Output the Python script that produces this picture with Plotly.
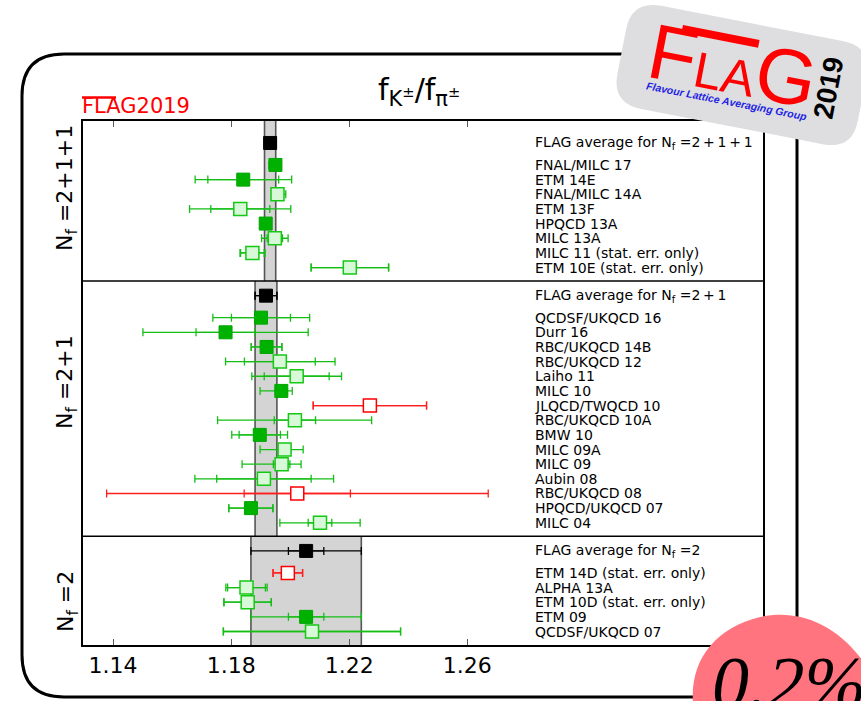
import math
import plotly.graph_objects as go

# ---------------- data ----------------
x_ticks = [1.14, 1.18, 1.22, 1.26]
x_tick_text = ["1.14", "1.18", "1.22", "1.26"]

panel_names = ["N<sub>f</sub> =2+1+1", "N<sub>f</sub> =2+1", "N<sub>f</sub> =2"]
avg_names = ["FLAG average for N<sub>f</sub> =2\u2009+\u20091\u2009+\u20091",
             "FLAG average for N<sub>f</sub> =2\u2009+\u20091",
             "FLAG average for N<sub>f</sub> =2"]
avg_val = [1.1932, 1.1918, 1.2054]
avg_stat = [0.0019, 0.0037, 0.0060]
avg_tot = [0.0019, 0.0037, 0.0187]

# Nf = 2+1+1
names_a = ["FNAL/MILC 17", "ETM 14E", "FNAL/MILC 14A", "ETM 13F", "HPQCD 13A",
           "MILC 13A", "MILC 11 (stat. err. only)", "ETM 10E (stat. err. only)"]
val_a = [1.1950, 1.1841, 1.1957, 1.1831, 1.1917, 1.1948, 1.1872, 1.2202]
stat_a = [0.0015, 0.0120, 0.0010, 0.0100, 0.0015, 0.0026, 0.0040, 0.0131]
totm_a = [0.0022, 0.0163, 0.0018, 0.0172, 0.0015, 0.0045, 0.0042, 0.0131]
totp_a = [0.0015, 0.0164, 0.0028, 0.0171, 0.0015, 0.0045, 0.0043, 0.0132]
style_a = ["fill", "fill", "open", "open", "fill", "open", "open", "open"]

# Nf = 2+1
names_b = ["QCDSF/UKQCD 16", "Durr 16", "RBC/UKQCD 14B", "RBC/UKQCD 12", "Laiho 11",
           "MILC 10", "JLQCD/TWQCD 10", "RBC/UKQCD 10A", "BMW 10", "MILC 09A",
           "MILC 09", "Aubin 08", "RBC/UKQCD 08", "HPQCD/UKQCD 07", "MILC 04"]
val_b = [1.1901, 1.1781, 1.1920, 1.1965, 1.2022, 1.1970, 1.2270, 1.2016, 1.1897,
         1.1981, 1.1971, 1.1911, 1.2024, 1.1867, 1.2101]
stat_b = [0.0100, 0.0100, 0.0052, 0.0120, 0.0110, 0.0020, 0.0192, 0.0070, 0.0070,
          0.0020, 0.0028, 0.0160, 0.0180, 0.0075, 0.0040]
totm_b = [0.0163, 0.0280, 0.0052, 0.0184, 0.0152, 0.0072, 0.0192, 0.0262, 0.0095,
          0.0083, 0.0134, 0.0234, 0.0646, 0.0075, 0.0136]
totp_b = [0.0165, 0.0280, 0.0052, 0.0187, 0.0152, 0.0037, 0.0192, 0.0260, 0.0094,
          0.0063, 0.0066, 0.0236, 0.0647, 0.0074, 0.0136]
style_b = ["fill", "fill", "fill", "open", "open", "fill", "red", "open", "fill",
           "open", "open", "open", "red", "fill", "open"]

# Nf = 2
names_c = ["ETM 14D (stat. err. only)", "ALPHA 13A", "ETM 10D (stat. err. only)",
           "ETM 09", "QCDSF/UKQCD 07"]
val_c = [1.1992, 1.1852, 1.1856, 1.2054, 1.2074]
stat_c = [0.0050, 0.0064, 0.0080, 0.0060, 0.0300]
totm_c = [0.0050, 0.0070, 0.0081, 0.0186, 0.0301]
totp_c = [0.0050, 0.0070, 0.0080, 0.0187, 0.0300]
style_c = ["red", "open", "open", "fill", "open"]

panels = [
    (names_a, val_a, stat_a, totm_a, totp_a, style_a),
    (names_b, val_b, stat_b, totm_b, totp_b, style_b),
    (names_c, val_c, stat_c, totm_c, totp_c, style_c),
]

# ---------------- geometry ----------------
W, H = 861, 701
ML, MR, MT, MB = 83, 98, 121, 56
PW, PH = W - ML - MR, H - MT - MB


def pxx(xp):
    return (xp - ML) / PW


def pxy(yp):
    return (H - MB - yp) / PH


avg_off = [1.5, 1.0, 1.0]
label_x = 1.2823
panel_label_rows = [4.57, 17.81, 32.83]

layout_rows = []
cur = 0.0
for p, pan in enumerate(panels):
    top = cur
    ya = top + avg_off[p]
    ys = [ya + 1.5 + i for i in range(len(pan[0]))]
    bottom = ys[-1] + 0.92
    layout_rows.append((top, ya, ys, bottom))
    cur = bottom
y_total = cur

styles = {
    "fill": dict(fill="rgb(0,178,0)", line="rgb(0,165,0)", lw=1, err="rgb(20,190,20)"),
    "open": dict(fill="rgb(216,249,216)", line="rgb(20,200,20)", lw=1.5, err="rgb(20,190,20)"),
    "red": dict(fill="white", line="rgb(255,0,0)", lw=1.5, err="rgb(255,30,30)"),
    "avg": dict(fill="black", line="black", lw=1, err="black"),
}

groups = {k: dict(x=[], y=[], sm=[], sp=[], tm=[], tp=[]) for k in styles}
for p, pan in enumerate(panels):
    names, vals, stats, tms, tps, sts = pan
    top, ya, ys, bottom = layout_rows[p]
    g = groups["avg"]
    g["x"].append(avg_val[p]); g["y"].append(ya)
    g["sm"].append(avg_stat[p]); g["sp"].append(avg_stat[p])
    g["tm"].append(avg_tot[p]); g["tp"].append(avg_tot[p])
    for i in range(len(names)):
        g = groups[sts[i]]
        g["x"].append(vals[i]); g["y"].append(ys[i])
        g["sm"].append(stats[i]); g["sp"].append(stats[i])
        g["tm"].append(tms[i]); g["tp"].append(tps[i])

fig = go.Figure()
for k, g in groups.items():
    s = styles[k]
    fig.add_trace(go.Scatter(
        x=g["x"], y=g["y"], mode="markers",
        marker=dict(size=1, color="rgba(0,0,0,0)"),
        error_x=dict(type="data", symmetric=False, array=g["tp"], arrayminus=g["tm"],
                     color=s["err"], thickness=1.3, width=4),
        hoverinfo="skip"))
for k, g in groups.items():
    s = styles[k]
    fig.add_trace(go.Scatter(
        x=g["x"], y=g["y"], mode="markers",
        marker=dict(symbol="square", size=13, color=s["fill"],
                    line=dict(color=s["line"], width=s["lw"])),
        error_x=dict(type="data", symmetric=False, array=g["sp"], arrayminus=g["sm"],
                     color=s["err"], thickness=1.3, width=4),
        hoverinfo="skip"))

shapes = []
annotations = []
LBL = dict(size=14, color="black", family="DejaVu Sans")
for p, pan in enumerate(panels):
    top, ya, ys, bottom = layout_rows[p]
    lo, hi = avg_val[p] - avg_tot[p], avg_val[p] + avg_tot[p]
    shapes.append(dict(type="rect", xref="x", yref="y", x0=lo, x1=hi, y0=top, y1=bottom,
                       fillcolor="rgb(212,212,212)", line=dict(width=0), layer="below"))
    for xe in (lo, hi):
        shapes.append(dict(type="line", xref="x", yref="y", x0=xe, x1=xe, y0=top, y1=bottom,
                           line=dict(color="rgb(85,85,85)", width=1.6), layer="below"))
    if p < 2:
        shapes.append(dict(type="line", xref="paper", yref="y", x0=0, x1=1, y0=bottom, y1=bottom,
                           line=dict(color="black", width=1.5), layer="above"))
    annotations.append(dict(x=label_x, y=ya, xref="x", yref="y", text=avg_names[p],
                            showarrow=False, xanchor="left", yanchor="middle", font=LBL))
    for i, nm in enumerate(pan[0]):
        annotations.append(dict(x=label_x, y=ys[i], xref="x", yref="y", text=nm,
                                showarrow=False, xanchor="left", yanchor="middle", font=LBL))
    annotations.append(dict(x=pxx(67), y=panel_label_rows[p], xref="paper", yref="y",
                            text=panel_names[p], textangle=-90, showarrow=False,
                            xanchor="center", yanchor="middle",
                            font=dict(size=22, color="black", family="DejaVu Sans")))

annotations.append(dict(x=pxx(419), y=pxy(92), xref="paper", yref="paper",
                        text="f<sub>K<sup>±</sup></sub>/f<sub>π<sup>±</sup></sub>",
                        showarrow=False, xanchor="center", yanchor="middle",
                        font=dict(size=30, color="black", family="DejaVu Sans")))
annotations.append(dict(x=pxx(80), y=pxy(106), xref="paper", yref="paper",
                        text="FLAG2019", showarrow=False, xanchor="left", yanchor="middle",
                        font=dict(size=21, color="rgb(255,0,0)", family="DejaVu Sans")))
shapes.append(dict(type="line", xref="paper", yref="paper", x0=pxx(82), x1=pxx(116),
                   y0=pxy(97.5), y1=pxy(97.5), line=dict(color="rgb(255,0,0)", width=2.5)))


def rrect_path(x0, y0, x1, y1, r):
    pts = [("M", [(x0 + r, y0)]), ("L", [(x1 - r, y0)]), ("Q", [(x1, y0), (x1, y0 + r)]),
           ("L", [(x1, y1 - r)]), ("Q", [(x1, y1), (x1 - r, y1)]), ("L", [(x0 + r, y1)]),
           ("Q", [(x0, y1), (x0, y1 - r)]), ("L", [(x0, y0 + r)]), ("Q", [(x0, y0), (x0 + r, y0)])]
    s = ""
    for cmd, ps in pts:
        s += cmd + " " + " ".join(f"{pxx(a):.5f},{pxy(b):.5f}" for a, b in ps) + " "
    return s + "Z"


shapes.append(dict(type="path", xref="paper", yref="paper",
                   path=rrect_path(22, 54, 797, 697, 42),
                   line=dict(color="black", width=3), layer="above"))


def rot_rrect_path(cx, cy, w, h, r, ang):
    a = math.radians(ang)
    ca, sa = math.cos(a), math.sin(a)

    def tr(x, y):
        return (cx + x * ca - y * sa, cy + x * sa + y * ca)
    hw, hh = w / 2, h / 2
    pts = [("M", [(-hw + r, -hh)]), ("L", [(hw - r, -hh)]), ("Q", [(hw, -hh), (hw, -hh + r)]),
           ("L", [(hw, hh - r)]), ("Q", [(hw, hh), (hw - r, hh)]), ("L", [(-hw + r, hh)]),
           ("Q", [(-hw, hh), (-hw, hh - r)]), ("L", [(-hw, -hh + r)]), ("Q", [(-hw, -hh), (-hw + r, -hh)])]
    s = ""
    for cmd, ps in pts:
        s += cmd + " " + " ".join(
            f"{pxx(tr(a_, b_)[0]):.5f},{pxy(tr(a_, b_)[1]):.5f}" for a_, b_ in ps) + " "
    return s + "Z"


shapes.append(dict(type="path", xref="paper", yref="paper",
                   path=rot_rrect_path(742, 75, 245, 105, 30, 11),
                   fillcolor="rgb(222,222,224)", line=dict(width=0), layer="above"))
bx0, by0 = 683, 25
dxv, dyv = math.cos(math.radians(11)), math.sin(math.radians(11))
bar = [(bx0, by0), (bx0 + 78 * dxv, by0 + 78 * dyv),
       (bx0 + 78 * dxv - 8 * dyv, by0 + 78 * dyv + 8 * dxv), (bx0 - 8 * dyv, by0 + 8 * dxv)]
shapes.append(dict(type="path", xref="paper", yref="paper",
                   path="M " + " L ".join(f"{pxx(a):.5f},{pxy(b):.5f}" for a, b in bar) + " Z",
                   fillcolor="rgb(255,0,0)", line=dict(width=0), layer="above"))
annotations.append(dict(x=pxx(733), y=pxy(66), xref="paper", yref="paper",
                        text="F<span style='font-size:50px'>LA</span>G", textangle=11,
                        showarrow=False, xanchor="center", yanchor="middle",
                        font=dict(size=78, color="rgb(255,0,0)", family="Liberation Sans")))
annotations.append(dict(x=pxx(727), y=pxy(101), xref="paper", yref="paper",
                        text="<b><i>Flavour Lattice Averaging Group</i></b>", textangle=11,
                        showarrow=False, xanchor="center", yanchor="middle",
                        font=dict(size=10.5, color="rgb(30,30,230)", family="Liberation Sans")))
annotations.append(dict(x=pxx(828), y=pxy(88), xref="paper", yref="paper",
                        text="<b>2019</b>", textangle=-79,
                        showarrow=False, xanchor="center", yanchor="middle",
                        font=dict(size=28, color="black", family="Liberation Sans")))

blob = (f"M {pxx(693):.5f},{pxy(703):.5f} C {pxx(690):.5f},{pxy(660):.5f} {pxx(715):.5f},{pxy(628):.5f} "
        f"{pxx(760):.5f},{pxy(617):.5f} C {pxx(800):.5f},{pxy(608):.5f} {pxx(845):.5f},{pxy(625):.5f} "
        f"{pxx(875):.5f},{pxy(680):.5f} L {pxx(875):.5f},{pxy(710):.5f} L {pxx(693):.5f},{pxy(710):.5f} Z")
shapes.append(dict(type="path", xref="paper", yref="paper", path=blob,
                   fillcolor="rgb(255,116,126)", line=dict(width=0), layer="above"))
annotations.append(dict(x=pxx(710), y=pxy(640), xref="paper", yref="paper",
                        text="<i>0.2%</i>", showarrow=False, xanchor="left", yanchor="top",
                        font=dict(size=74, color="black", family="Liberation Serif")))

fig.update_layout(
    width=W, height=H,
    margin=dict(l=ML, r=MR, t=MT, b=MB, autoexpand=False),
    paper_bgcolor="white", plot_bgcolor="white", showlegend=False,
    font=dict(family="DejaVu Sans", color="black"),
    shapes=shapes, annotations=annotations,
    xaxis=dict(range=[1.1298, 1.3602], tickvals=x_ticks, ticktext=x_tick_text,
               ticks="inside", ticklen=6, tickwidth=1, tickcolor="rgb(90,90,90)",
               showline=True, linecolor="black", linewidth=1.5, mirror="ticks",
               showgrid=False, zeroline=False,
               tickfont=dict(size=22, color="black", family="DejaVu Sans")),
    yaxis=dict(range=[y_total, 0], showticklabels=False, ticks="", showgrid=False,
               zeroline=False, showline=True, linecolor="black", linewidth=1.5, mirror=True),
)

fig.write_html("out.html")
